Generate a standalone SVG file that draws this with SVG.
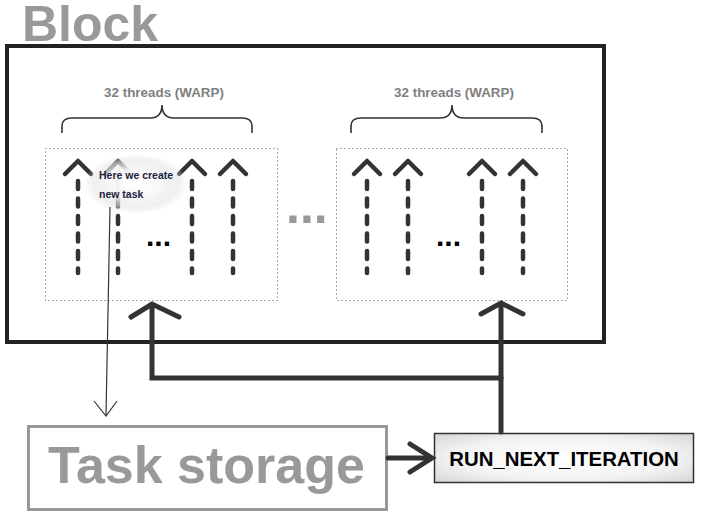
<svg xmlns="http://www.w3.org/2000/svg" width="705" height="515" viewBox="0 0 705 515">
<defs>
<style>
.lbl{font-family:"Liberation Sans",Arial,sans-serif;font-weight:bold}
.warp{fill:none;stroke:#555;stroke-width:1;stroke-dasharray:1 3}
.brace{fill:none;stroke:#333;stroke-width:1.6}
.shaft{stroke:#333;stroke-width:4.5;stroke-dasharray:8 9.5;stroke-linecap:round}
.head{fill:none;stroke:#333;stroke-width:4.5;stroke-linecap:round;stroke-linejoin:round}
.thick{fill:none;stroke:#333;stroke-width:5;stroke-linecap:round;stroke-linejoin:miter}
</style>
<radialGradient id="glow" cx="0.5" cy="0.5" r="0.5">
<stop offset="0" stop-color="#fff" stop-opacity="1"/>
<stop offset="0.5" stop-color="#f6f6f6" stop-opacity="0.95"/>
<stop offset="0.8" stop-color="#e6e6e6" stop-opacity="0.6"/>
<stop offset="1" stop-color="#ddd" stop-opacity="0"/>
</radialGradient>
<radialGradient id="boxg" cx="0.5" cy="0.5" r="0.7">
<stop offset="0" stop-color="#fff"/>
<stop offset="0.6" stop-color="#f3f3f3"/>
<stop offset="1" stop-color="#d6d6d6"/>
</radialGradient>
<linearGradient id="ul" x1="0" y1="0" x2="1" y2="0">
<stop offset="0" stop-color="#000"/>
<stop offset="0.6" stop-color="#222"/>
<stop offset="1" stop-color="#888"/>
</linearGradient>
<g id="thread">
<line class="shaft" x1="0" y1="181" x2="0" y2="273"/>
<polyline class="head" points="-13,174 0,161 13,174"/>
</g>
</defs>
<rect width="705" height="515" fill="#fff"/>

<g id="block">
<rect x="7" y="46" width="597" height="296" fill="none" stroke="#222" stroke-width="4"/>
<text class="lbl" x="22" y="41" font-size="50" fill="#999">Block</text>
</g>

<g id="warp1">
<rect class="warp" x="45.5" y="148.5" width="232" height="152"/>
<path class="brace" d="M62,133 V126 Q62,118 72,118 H150 Q162,118 162,105 Q162,118 174,118 H242 Q252,118 252,126 V133"/>
<text class="lbl" x="164" y="97" font-size="13.4" fill="#7f7f7f" text-anchor="middle">32 threads (WARP)</text>
<use href="#thread" x="78"/>
<use href="#thread" x="118"/>
<use href="#thread" x="192"/>
<use href="#thread" x="233"/>
<text class="lbl" x="146" y="246" font-size="30" fill="#000">...</text>
</g>

<g id="warp2">
<rect class="warp" x="336.5" y="148.5" width="231" height="152"/>
<path class="brace" d="M351,133 V126 Q351,118 361,118 H440 Q452,118 452,105 Q452,118 464,118 H532 Q542,118 542,126 V133"/>
<text class="lbl" x="454" y="97" font-size="13.4" fill="#7f7f7f" text-anchor="middle">32 threads (WARP)</text>
<use href="#thread" x="367"/>
<use href="#thread" x="408"/>
<use href="#thread" x="482"/>
<use href="#thread" x="523"/>
<text class="lbl" x="436" y="246" font-size="30" fill="#000">...</text>
</g>

<g id="between">
<text class="lbl" x="286" y="223" font-size="50" fill="#999">...</text>
</g>

<g id="callout">
<ellipse cx="136" cy="184" rx="52" ry="30" fill="url(#glow)"/>
<text class="lbl" x="99" y="179" font-size="10.5" fill="#1a2340">Here we create</text>
<text class="lbl" x="99" y="198" font-size="10.5" fill="#1a2340">new task</text>
<line x1="94" y1="206" x2="150" y2="206" stroke="url(#ul)" stroke-width="2.5"/>
</g>

<g id="task-storage">
<rect x="28.5" y="426.5" width="358" height="83" fill="#fff" stroke="#999" stroke-width="3"/>
<text class="lbl" x="48" y="483" font-size="52" fill="#999">Task storage</text>
</g>

<g id="run-next-iteration">
<rect x="434.5" y="433.5" width="259" height="49" fill="url(#boxg)" stroke="#333" stroke-width="1.5"/>
<text class="lbl" x="564" y="466" font-size="20.4" fill="#000" text-anchor="middle">RUN_NEXT_ITERATION</text>
</g>

<g id="connectors">
<polyline points="110,207 106,416" fill="none" stroke="#333" stroke-width="1.2"/>
<polyline points="94,401 106,416 117,401" fill="none" stroke="#333" stroke-width="1.2"/>
<polyline class="thick" points="501,432 501,304"/>
<polyline class="thick" points="481,314 501,303 523,314"/>
<polyline class="thick" points="501,378 152,378 152,305"/>
<polyline class="thick" points="131,317 152,304 179,317"/>
<line class="thick" x1="388" y1="458" x2="430" y2="458"/>
<polyline class="thick" points="410,444 432,458 410,472"/>
</g>
</svg>
